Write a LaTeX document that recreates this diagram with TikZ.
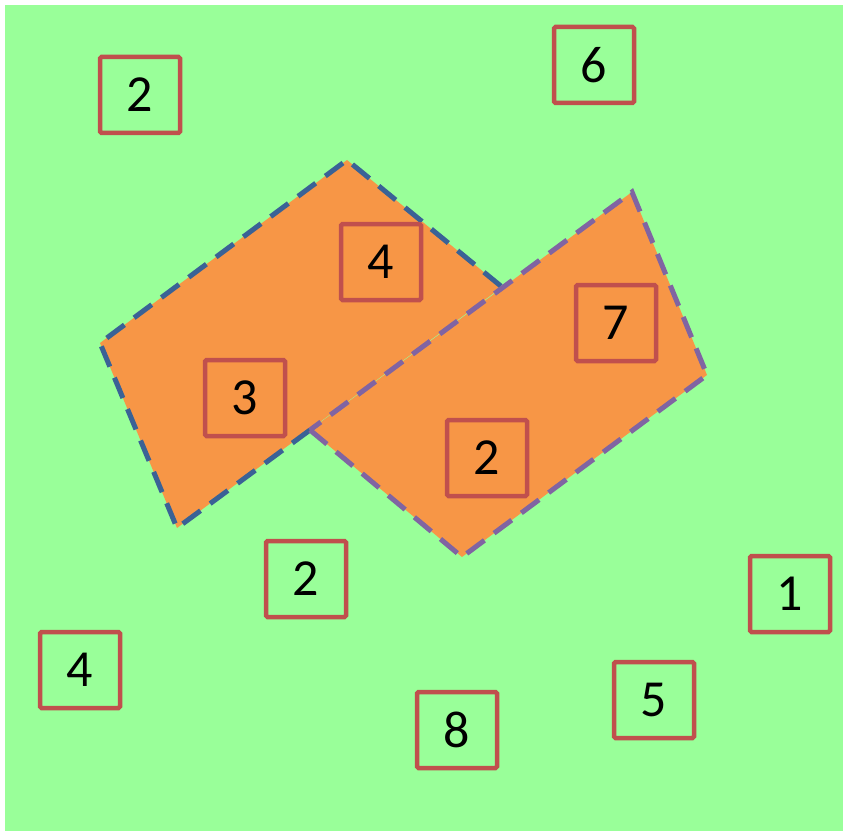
\documentclass[tikz,border=0pt]{standalone}
\usepackage{fontspec}
\setmainfont{Carlito}
\usetikzlibrary{positioning}

\definecolor{fieldgreen}{HTML}{99FF99}
\definecolor{zoneorange}{HTML}{F79646}
\definecolor{boxred}{HTML}{C0504D}
\definecolor{edgeblue}{HTML}{3A6296}
\definecolor{edgepurple}{HTML}{8064A2}

\begin{document}
\begin{tikzpicture}[
      x=1pt, y=-1pt, % pixel-like units, y going down
      count/.style={
          rectangle,
          draw=boxred,
          line width=4.5pt,
          rounded corners=1.5pt,
          minimum width=80pt,
          minimum height=76pt,
          inner sep=0pt,
          font=\fontsize{52}{52}\selectfont
      },
      zone/.style={fill=zoneorange},
      rim/.style={line width=5pt, dash pattern=on 22pt off 12pt}
  ]
      \useasboundingbox (0,0) rectangle (844,832);

      % Field
      \fill [fieldgreen] (5,5) rectangle (843,831);

      % Zones
      \coordinate (za) at (100,343);
      \coordinate (zb) at (347,160);
      \coordinate (zc) at (502,287);
      \coordinate (zd) at (177,528);
      \coordinate (wa) at (310,430);
      \coordinate (wb) at (462,557);
      \coordinate (wc) at (707,375);
      \coordinate (wd) at (632,192);

      \fill [zone] (za) -- (zb) -- (zc) -- (zd) -- cycle;
      \draw [rim, draw=edgeblue] (wa) -- (zd) -- (za) -- (zb) -- (zc);
      \filldraw [zone, rim, draw=edgepurple] (wa) -- (wb) -- (wc) -- (wd) -- cycle;

      % Counts
      \node (c2top) [count] at (140,95) {2};
      \node (c6) [count] at (594,65) {6};
      \node (c4zone) [count] at (381,262) {4};
      \node (c7) [count] at (616,323) {7};
      \node (c3) [count] at (245,398) {3};
      \node (c2zone) [count] at (487,458) {2};
      \node (c2low) [count] at (306,579) {2};
      \node (c1) [count] at (790,594) {1};
      \node (c4low) [count] at (80,670) {4};
      \node (c5) [count] at (654,700) {5};
      \node (c8) [count] at (457,730) {8};
  \end{tikzpicture}
\end{document}
